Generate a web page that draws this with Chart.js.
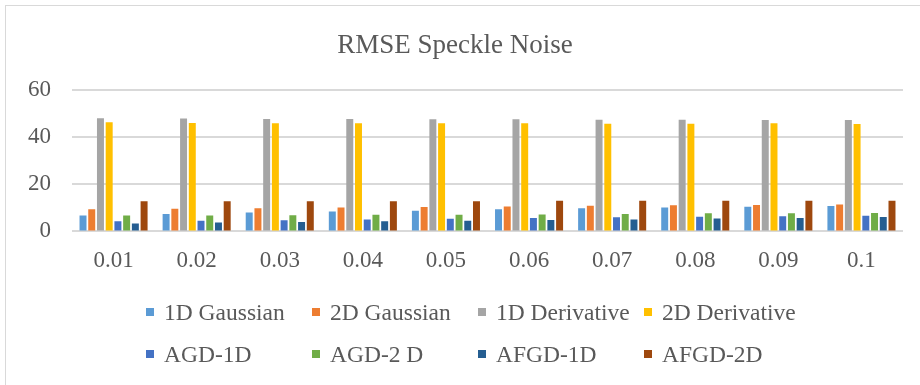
<!DOCTYPE html>
<html>
<head>
<meta charset="utf-8">
<script src="https://cdn.jsdelivr.net/npm/chart.js@4.4.1/dist/chart.umd.min.js"></script>
<style>
  html, body { margin: 0; padding: 0; background: #fff; }
  #wrap { position: relative; width: 920px; height: 385px; overflow: hidden; }
  #frame { position: absolute; left: 5px; top: 5px; width: 930px; height: 400px; border: 1px solid #d9d9d9; box-sizing: border-box; }
  #rmseChart { position: absolute; left: 0; top: 0; }
  #legend { position: absolute; left: 146px; top: 0; font-family: "Liberation Serif", "Times New Roman", serif; font-size: 23.5px; color: #595959; }
  .legend-item { position: absolute; width: 166px; white-space: nowrap; display: flex; align-items: center; height: 28px; }
  .legend-box { width: 8px; height: 8px; margin-right: 10px; flex: none; }
</style>
</head>
<body>
<div id="wrap">
  <div id="frame"></div>
  <canvas id="rmseChart" width="920" height="385"></canvas>
  <div id="legend"></div>
</div>
<script>
const noiseLevels = ['0.01', '0.02', '0.03', '0.04', '0.05', '0.06', '0.07', '0.08', '0.09', '0.1'];
const yTicks = [0, 20, 40, 60];

const gaussian1D = [6.8, 7.4, 8.0, 8.5, 8.8, 9.4, 9.8, 10.2, 10.5, 10.8];
const gaussian2D = [9.4, 9.6, 9.8, 10.2, 10.4, 10.6, 10.9, 11.1, 11.2, 11.5];
const derivative1D = [48.1, 48.0, 47.8, 47.8, 47.7, 47.7, 47.5, 47.5, 47.4, 47.4];
const derivative2D = [46.4, 46.1, 46.0, 46.0, 46.0, 46.0, 45.8, 45.8, 46.0, 45.7];
const agd1D = [4.3, 4.5, 4.7, 5.1, 5.4, 5.7, 6.0, 6.2, 6.4, 6.7];
const agd2D = [6.8, 6.8, 6.9, 7.1, 7.1, 7.2, 7.4, 7.7, 7.7, 7.8];
const afgd1D = [3.4, 3.8, 4.0, 4.3, 4.5, 4.8, 5.1, 5.5, 5.7, 6.1];
const afgd2D = [12.8, 12.8, 12.8, 12.8, 12.8, 13.0, 13.0, 13.0, 13.0, 13.0];

const serif = '"Liberation Serif", "Times New Roman", serif';
const textColor = '#595959';

function makeSet(label, data, color) {
  return { label: label, data: data, backgroundColor: color, borderWidth: 0 };
}

const chart = new Chart(document.getElementById('rmseChart'), {
  type: 'bar',
  data: {
    labels: noiseLevels,
    datasets: [
      makeSet('1D Gaussian', gaussian1D, '#5b9bd5'),
      makeSet('2D Gaussian', gaussian2D, '#ed7d31'),
      makeSet('1D Derivative', derivative1D, '#a5a5a5'),
      makeSet('2D Derivative', derivative2D, '#ffc000'),
      makeSet('AGD-1D', agd1D, '#4472c4'),
      makeSet('AGD-2 D', agd2D, '#70ad47'),
      makeSet('AFGD-1D', afgd1D, '#255e91'),
      makeSet('AFGD-2D', afgd2D, '#9e480e')
    ]
  },
  options: {
    responsive: false,
    animation: false,
    categoryPercentage: 0.84,
    barPercentage: 0.8,
    layout: { padding: { left: 7, right: 17, top: 0, bottom: 94 } },
    plugins: {
      legend: { display: false },
      tooltip: { enabled: false },
      title: {
        display: true,
        text: 'RMSE Speckle Noise',
        color: textColor,
        font: { family: serif, size: 27, weight: 'normal' },
        padding: { top: 30, bottom: 28 }
      }
    },
    scales: {
      x: {
        grid: { display: false, drawTicks: false },
        border: { display: false },
        ticks: { color: textColor, padding: 16, font: { family: serif, size: 23 } }
      },
      y: {
        min: yTicks[0],
        max: yTicks[yTicks.length - 1],
        afterBuildTicks: axis => { axis.ticks = yTicks.map(v => ({ value: v })); },
        grid: { color: '#d9d9d9', lineWidth: 2, drawTicks: false },
        border: { display: false },
        ticks: { color: textColor, padding: 21, font: { family: serif, size: 23 } }
      }
    }
  }
});

// Legend laid out as a 4-column grid like the original
const legend = document.getElementById('legend');
const rowTops = [298, 340];
chart.data.datasets.forEach((ds, i) => {
  const item = document.createElement('div');
  item.className = 'legend-item';
  item.style.left = (i % 4) * 166 + 'px';
  item.style.top = rowTops[Math.floor(i / 4)] + 'px';
  item.innerHTML = `<span class="legend-box" style="background:${ds.backgroundColor}"></span><span>${ds.label}</span>`;
  legend.appendChild(item);
});
</script>
</body>
</html>
